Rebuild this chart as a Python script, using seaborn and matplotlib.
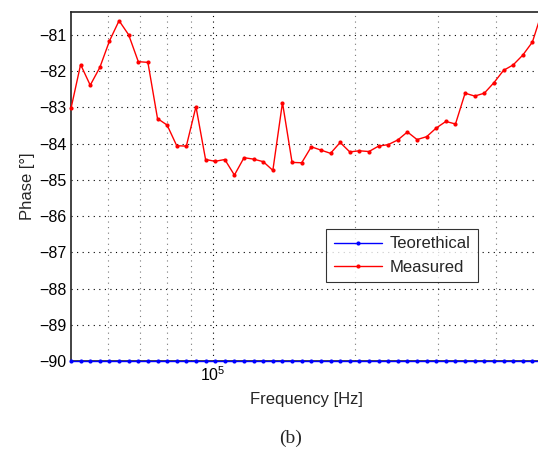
import numpy as np
import pandas as pd
import seaborn as sns
import matplotlib
matplotlib.use("Agg")
import matplotlib.pyplot as plt
from matplotlib.ticker import FixedLocator, NullFormatter, FixedFormatter

# Frequency sweep: 50 log-spaced points between 50 kHz and 500 kHz
f_start, f_stop, n_pts = 5e4, 5e5, 50
freq = np.logspace(np.log10(f_start), np.log10(f_stop), n_pts)

theoretical = [-90.0] * n_pts
measured = [
    -83.03, -81.82, -82.39, -81.90, -81.17, -80.61, -81.00, -81.74, -81.76, -83.31,
    -83.49, -84.06, -84.07, -82.98, -84.44, -84.49, -84.44, -84.87, -84.39, -84.43,
    -84.50, -84.74, -82.87, -84.52, -84.53, -84.09, -84.18, -84.27, -83.97, -84.23,
    -84.20, -84.22, -84.07, -84.03, -83.90, -83.68, -83.89, -83.81, -83.57, -83.39,
    -83.46, -82.61, -82.69, -82.61, -82.32, -81.98, -81.83, -81.56, -81.20, -80.37,
]

y_ticks = list(range(-90, -80))
y_tick_labels = [f"\u2212{abs(v)}" for v in y_ticks]

df = pd.DataFrame({
    "Frequency": np.concatenate([freq, freq]),
    "Phase": theoretical + measured,
    "Series": ["Teorethical"] * n_pts + ["Measured"] * n_pts,
})

sns.set_style("white")
plt.rcParams["font.family"] = ["Liberation Sans", "DejaVu Sans"]
plt.rcParams["mathtext.fontset"] = "custom"
plt.rcParams["mathtext.rm"] = "Liberation Sans"
plt.rcParams["mathtext.it"] = "Liberation Sans"

fig = plt.figure(figsize=(5.38, 4.5), dpi=100)
ax = fig.add_axes([71 / 538, 1 - 361 / 450, (542 - 71) / 538, (361 - 12) / 450])

sns.lineplot(data=df, x="Frequency", y="Phase", hue="Series",
             palette={"Teorethical": "#0000ff", "Measured": "#ff0000"},
             marker="o", markersize=3, markeredgewidth=0, linewidth=1.0,
             ax=ax, zorder=3, clip_on=False)

ax.set_xscale("log")
ax.set_xlim(f_start, f_stop)
ax.set_ylim(-90, -80.37)

ax.xaxis.set_major_locator(FixedLocator([1e5]))
ax.xaxis.set_major_formatter(FixedFormatter(["$10^5$"]))
ax.xaxis.set_minor_locator(FixedLocator([6e4, 7e4, 8e4, 9e4, 2e5, 3e5, 4e5]))
ax.xaxis.set_minor_formatter(NullFormatter())
ax.set_yticks(y_ticks)
ax.set_yticklabels(y_tick_labels)

ax.tick_params(which="both", direction="in", labelsize=11.5, colors="black")
ax.tick_params(which="major", length=4, width=0.6, pad=3)
ax.tick_params(which="minor", length=2, width=0.5)

ax.grid(True, which="major", axis="both", color="black", linestyle=(0, (1, 4)), linewidth=0.8)
ax.grid(True, which="minor", axis="x", color="#777777", linestyle=(0, (1, 4)), linewidth=0.8)

for side in ["left", "top", "right", "bottom"]:
    ax.spines[side].set_color("#222222")
    ax.spines[side].set_linewidth(1.2)

ax.set_xlabel("Frequency [Hz]", fontsize=12, labelpad=6)
ax.set_ylabel("Phase [\u00b0]", fontsize=12, labelpad=3)

leg = ax.legend(loc="upper left", bbox_to_anchor=((326 - 71) / 471, 1 - (229 - 12) / 349),
                fontsize=12, frameon=True, fancybox=False, edgecolor="black",
                borderpad=0.45, handlelength=2.9, labelspacing=0.5, handletextpad=0.45,
                borderaxespad=0)
leg.get_frame().set_linewidth(0.8)

fig.text(291 / 538, 1 - 438 / 450, "(b)", ha="center", va="center",
         fontsize=14, family=["Liberation Serif", "DejaVu Serif"])

fig.savefig("out.png", dpi=100, facecolor="white")
